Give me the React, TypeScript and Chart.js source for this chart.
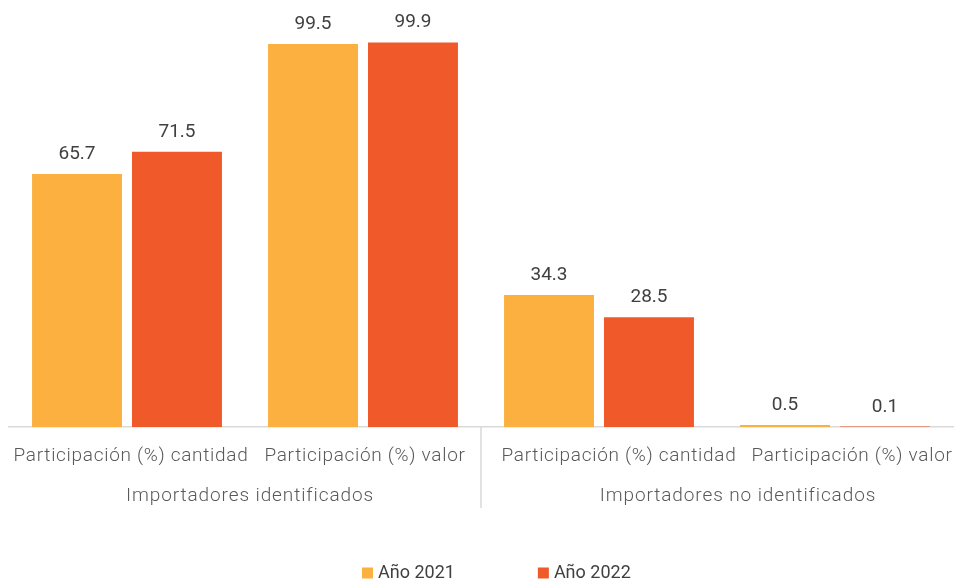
import React, { useEffect, useRef } from "react";
import { Chart, registerables } from "chart.js";

Chart.register(...registerables);

const categories = [
  "Participación (%) cantidad",
  "Participación (%) valor",
  "Participación (%) cantidad",
  "Participación (%) valor",
];
const groups = ["Importadores identificados", "Importadores no identificados"];
const seriesNames = ["Año 2021", "Año 2022"];
const values2021 = [65.7, 99.5, 34.3, 0.5];
const values2022 = [71.5, 99.9, 28.5, 0.1];

const COLORS = ["#FBB040", "#F05A2B"];
const FONT = "Roboto, 'Noto Sans', sans-serif";
const TEXT_DARK = "#404040";
const TEXT_GRAY = "#595959";
const LINE_GRAY = "#d9d9d9";

const extrasPlugin = {
  id: "extras",
  afterDatasetsDraw(chart: any) {
    const ctx = chart.ctx;
    ctx.save();
    ctx.font = `400 19px ${FONT}`;
    ctx.fillStyle = TEXT_DARK;
    ctx.textAlign = "center";
    ctx.textBaseline = "alphabetic";
    chart.data.datasets.forEach((ds: any, di: number) => {
      const meta = chart.getDatasetMeta(di);
      meta.data.forEach((el: any, i: number) => {
        ctx.fillText(Number(ds.data[i]).toFixed(1), el.x, el.y - 15);
      });
    });
    ctx.restore();
  },
  afterDraw(chart: any) {
    const ctx = chart.ctx;
    const xs = chart.scales.x;
    const area = chart.chartArea;
    ctx.save();
    // divider between groups
    const divX = (xs.getPixelForValue(1) + xs.getPixelForValue(2)) / 2;
    ctx.strokeStyle = LINE_GRAY;
    ctx.lineWidth = 1.5;
    ctx.beginPath();
    ctx.moveTo(divX, area.bottom);
    ctx.lineTo(divX, area.bottom + 81);
    ctx.stroke();
    // category labels
    ctx.font = `300 19px ${FONT}`;
    ctx.fillStyle = TEXT_GRAY;
    ctx.textAlign = "center";
    ctx.textBaseline = "alphabetic";
    (ctx as any).letterSpacing = "0.7px";
    const catNudge = [4, 2, 20, 17];
    categories.forEach((c, i) => {
      ctx.fillText(c, xs.getPixelForValue(i) + catNudge[i], area.bottom + 34);
    });
    // group labels
    (ctx as any).letterSpacing = "0.9px";
    const nudge = [5, 21];
    groups.forEach((g, gi) => {
      const cx = (xs.getPixelForValue(gi * 2) + xs.getPixelForValue(gi * 2 + 1)) / 2 + nudge[gi];
      ctx.fillText(g, cx, area.bottom + 74);
    });
    (ctx as any).letterSpacing = "0px";
    // legend
    ctx.font = `400 18px ${FONT}`;
    ctx.textAlign = "left";
    ctx.textBaseline = "middle";
    let lx = 362;
    const ly = 573;
    seriesNames.forEach((name, i) => {
      ctx.fillStyle = COLORS[i];
      ctx.fillRect(lx, ly - 5.5, 11, 11);
      ctx.fillStyle = TEXT_DARK;
      ctx.fillText(name, lx + 16, ly);
      const w = ctx.measureText(name).width;
      lx += 16 + w + 83;
    });
    ctx.restore();
  },
};

export default function App() {
  const ref = useRef<HTMLCanvasElement>(null);
  useEffect(() => {
    if (!ref.current) return;
    const chart = new Chart(ref.current, {
      type: "bar",
      data: {
        labels: categories,
        datasets: [
          { label: seriesNames[0], data: values2021, backgroundColor: COLORS[0], borderWidth: 0 },
          { label: seriesNames[1], data: values2022, backgroundColor: COLORS[1], borderWidth: 0 },
        ],
      },
      options: {
        animation: false,
        responsive: false,
        maintainAspectRatio: false,
        events: [],
        layout: { padding: { top: 42, left: 9, right: 5, bottom: 0 } },
        datasets: { bar: { categoryPercentage: 0.847, barPercentage: 0.9 } },
        plugins: {
          legend: { display: false },
          tooltip: { enabled: false },
        },
        scales: {
          x: {
            grid: { display: false, drawTicks: false, tickLength: 0 },
            border: { display: true, color: LINE_GRAY, width: 1.5 },
            ticks: { display: false },
            afterFit: (s: any) => {
              s.height = 156;
            },
          },
          y: { display: false, min: 0, max: 100 },
        },
      },
      plugins: [extrasPlugin],
    } as any);
    return () => chart.destroy();
  }, []);
  return (
    <div style={{ position: "absolute", left: 0, top: 0, width: 958, height: 583, background: "#fff" }}>
      <canvas ref={ref} width={958} height={583} />
    </div>
  );
}
